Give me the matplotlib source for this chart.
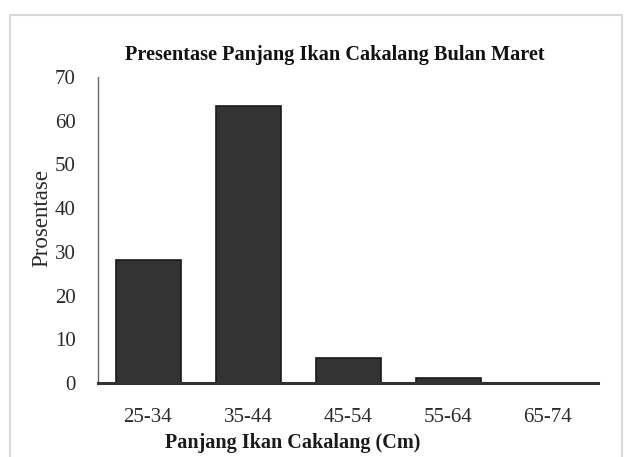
import matplotlib
matplotlib.use("Agg")
import matplotlib.pyplot as plt
from matplotlib.patches import Rectangle

categories = ["25-34", "35-44", "45-54", "55-64", "65-74"]
values = [28.2, 63.4, 5.7, 1.1, 0.0]
yticks = [0, 10, 20, 30, 40, 50, 60, 70]

W, H = 630, 457
fig = plt.figure(figsize=(W / 100, H / 100), dpi=100)
fig.patch.set_facecolor("white")

# light frame around the chart area
fig.add_artist(Rectangle((10 / W, -0.05), 612 / W, 1.05 - 15 / H,
                         transform=fig.transFigure, fill=False,
                         edgecolor="#d8d8d8", linewidth=1.5))

ax = fig.add_axes([98 / W, 1 - 383 / H, 500 / W, (383 - 77) / H])
ax.bar(range(len(categories)), values, width=0.65, color="#333333",
       edgecolor="#1a1a1a", linewidth=1.2, zorder=2)

ax.set_xlim(-0.5, len(categories) - 0.5)
ax.set_ylim(0, 70)
ax.set_yticks(yticks)
ax.set_xticks(range(len(categories)))
ax.set_xticklabels(categories)

font = "Liberation Serif"
for lab in ax.get_xticklabels() + ax.get_yticklabels():
    lab.set_fontfamily(font)
    lab.set_fontsize(15)
    lab.set_color("#2a2a2a")
ax.tick_params(axis="both", length=0)
ax.tick_params(axis="x", pad=18)
ax.tick_params(axis="y", pad=16)

for s in ["top", "right"]:
    ax.spines[s].set_visible(False)
ax.spines["left"].set_color("#666666")
ax.spines["left"].set_linewidth(1.0)
ax.spines["bottom"].set_color("#333333")
ax.spines["bottom"].set_linewidth(2.2)

fig.text(335 / W, 1 - 55 / H, "Presentase Panjang Ikan Cakalang Bulan Maret",
         ha="center", va="center", fontfamily=font, fontsize=14.6,
         fontweight="bold", color="#111111")
fig.text(293 / W, 1 - 443 / H, "Panjang Ikan Cakalang (Cm)",
         ha="center", va="center", fontfamily=font, fontsize=14.5,
         fontweight="bold", color="#1a1a1a")
fig.text(42 / W, 1 - 218 / H, "Prosentase", rotation=90,
         ha="center", va="center", fontfamily=font, fontsize=16.5,
         color="#2a2a2a")

fig.savefig("out.png", dpi=100, facecolor="white")
